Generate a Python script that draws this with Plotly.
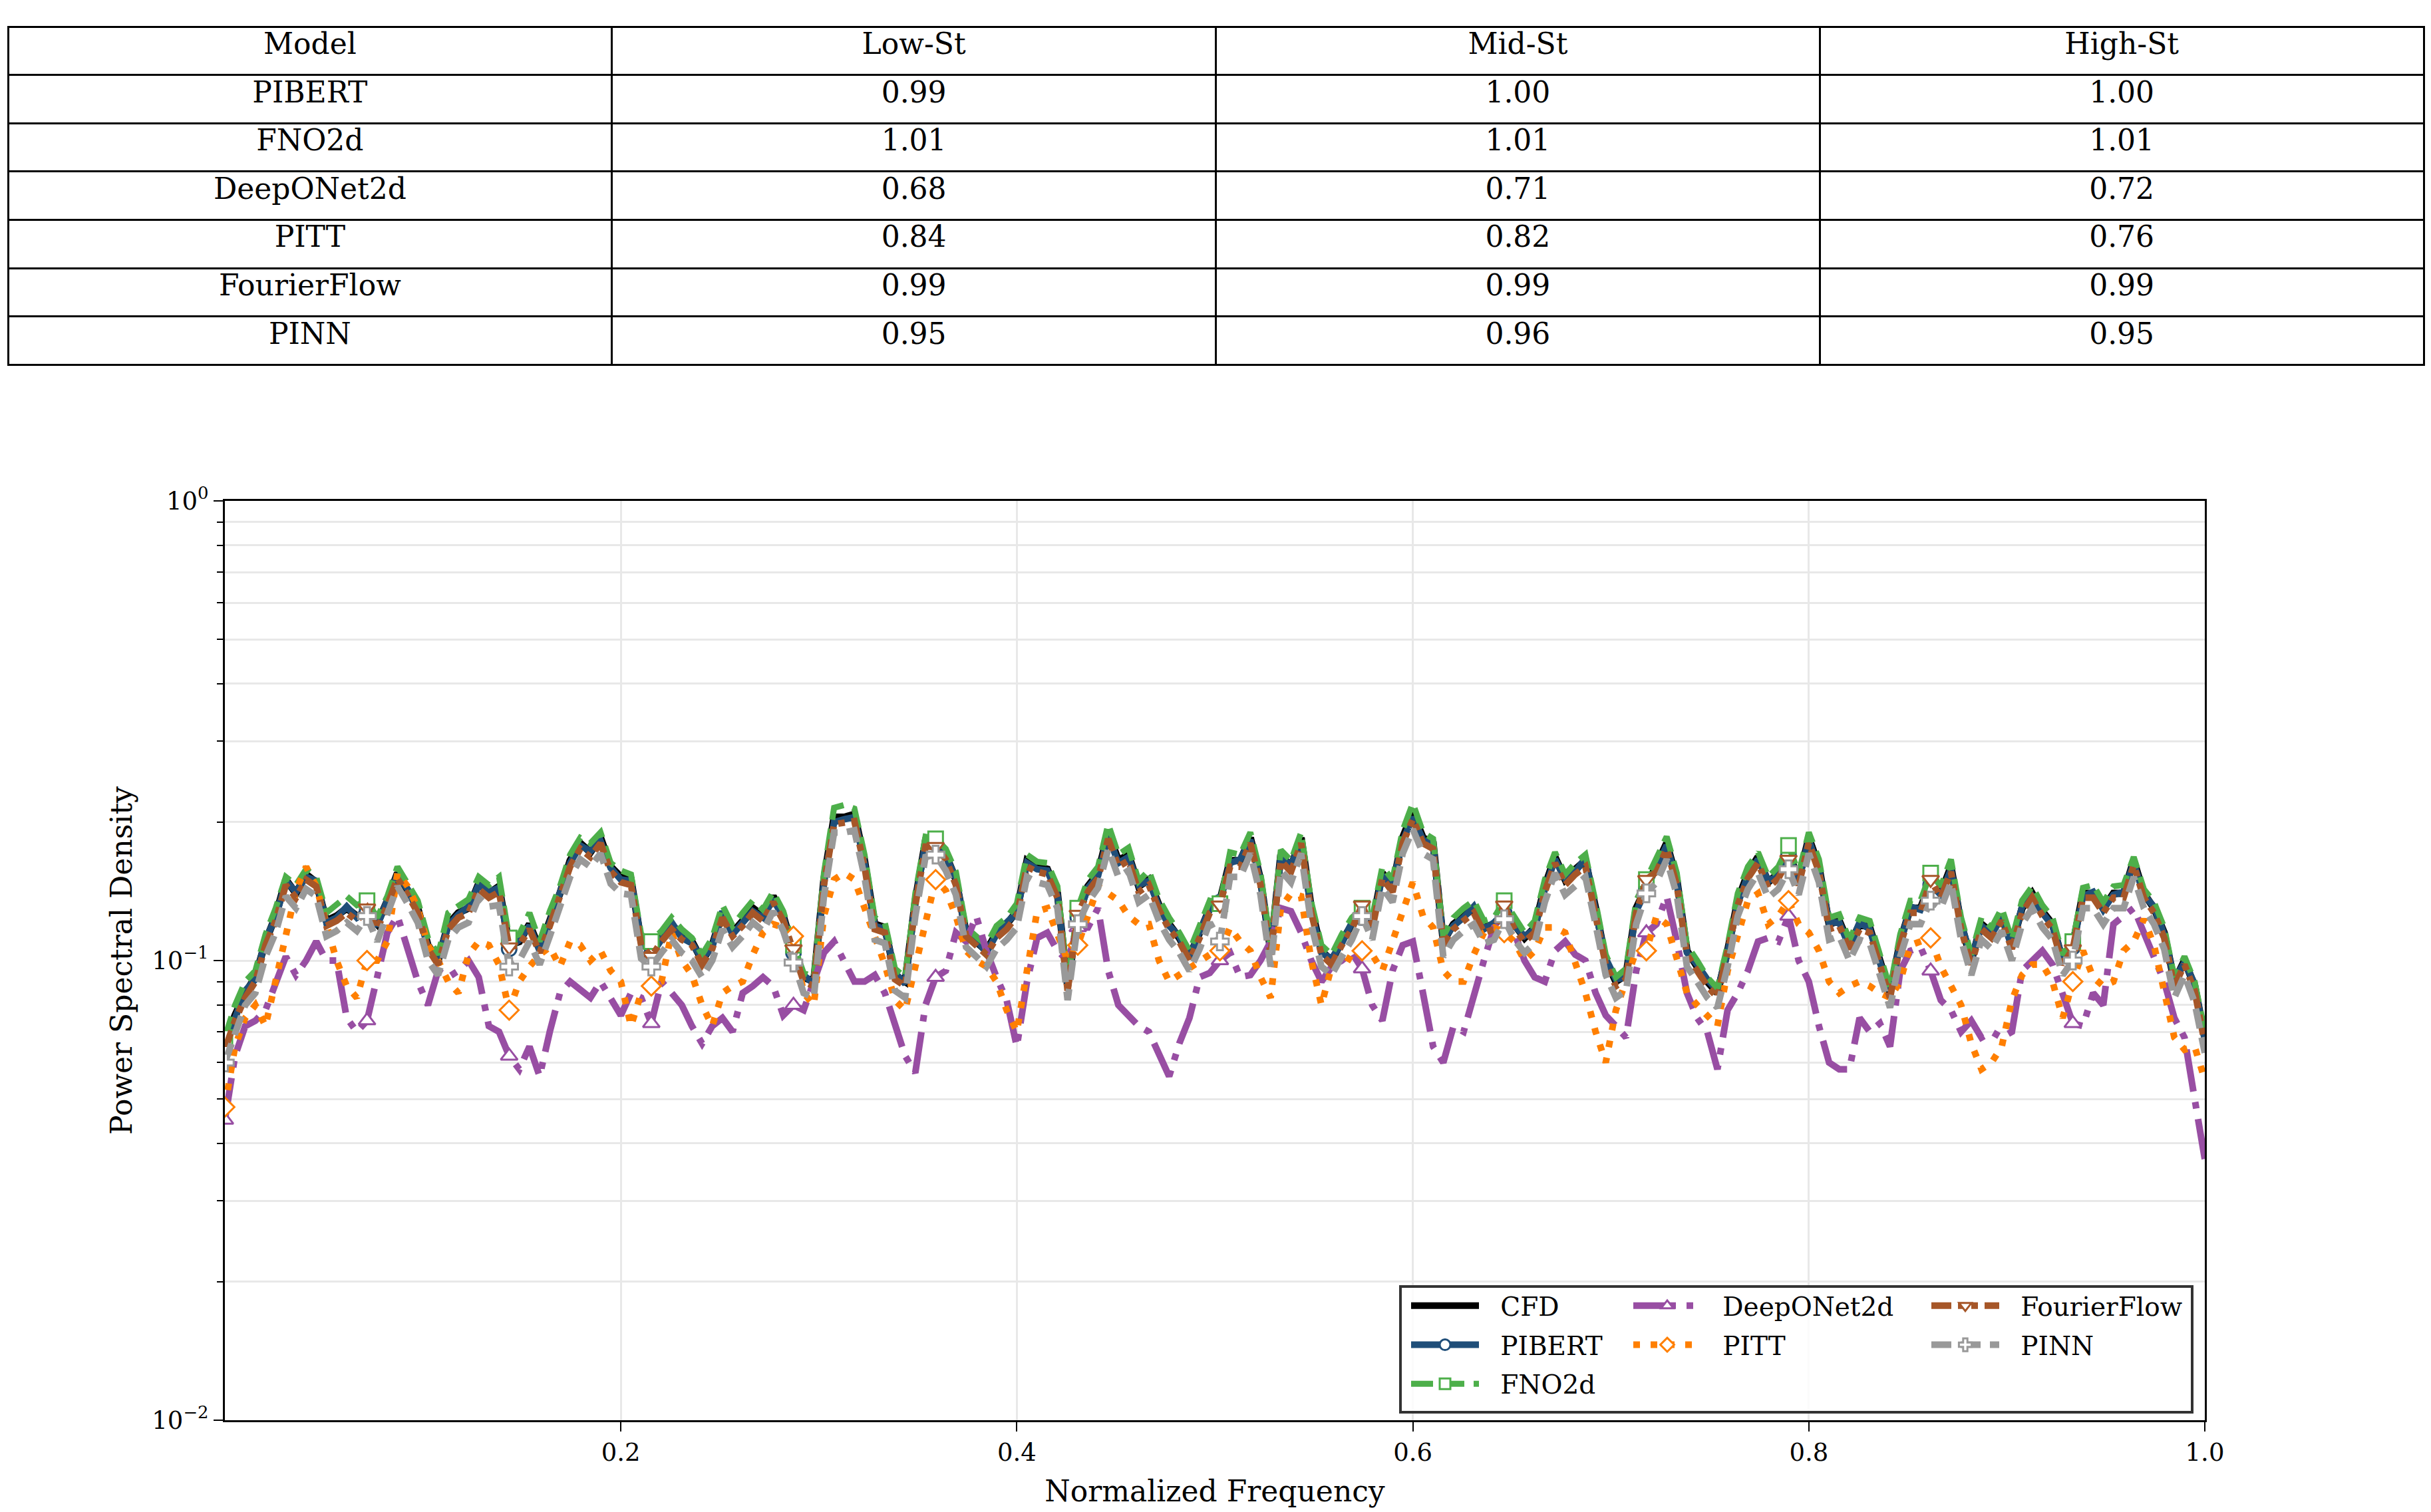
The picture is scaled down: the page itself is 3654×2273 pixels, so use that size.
import numpy as np
import plotly.graph_objects as go

# ---------------- table data ----------------
table_header = ["Model", "Low-St", "Mid-St", "High-St"]
table_models = ["PIBERT", "FNO2d", "DeepONet2d", "PITT", "FourierFlow", "PINN"]
low_st = ["0.99", "1.01", "0.68", "0.84", "0.99", "0.95"]
mid_st = ["1.00", "1.01", "0.71", "0.82", "0.99", "0.96"]
high_st = ["1.00", "1.01", "0.72", "0.76", "0.99", "0.95"]

# ---------------- spectra ----------------
n_points = 196
freq = np.arange(n_points) / (n_points - 1)
marker_step = 14

cfd = [0.066,0.076,0.085,0.092,0.110,0.125,0.150,0.140,0.154,0.148,
0.122,0.125,0.130,0.125,0.127,0.120,0.135,0.155,0.142,0.130,
0.108,0.100,0.120,0.127,0.130,0.147,0.140,0.145,0.108,0.110,
0.120,0.106,0.122,0.140,0.165,0.180,0.172,0.185,0.160,0.152,
0.150,0.110,0.104,0.112,0.120,0.113,0.110,0.100,0.108,0.127,
0.115,0.122,0.130,0.125,0.138,0.125,0.105,0.092,0.090,0.150,
0.205,0.205,0.208,0.165,0.120,0.118,0.093,0.090,0.135,0.182,
0.182,0.170,0.150,0.115,0.110,0.105,0.115,0.120,0.128,0.165,
0.160,0.158,0.140,0.088,0.125,0.145,0.155,0.190,0.165,0.170,
0.145,0.150,0.132,0.120,0.112,0.102,0.115,0.130,0.135,0.165,
0.165,0.185,0.150,0.105,0.170,0.160,0.185,0.130,0.105,0.100,
0.110,0.120,0.125,0.120,0.155,0.145,0.185,0.210,0.185,0.180,
0.110,0.120,0.125,0.130,0.118,0.120,0.128,0.120,0.112,0.118,
0.145,0.168,0.150,0.158,0.165,0.130,0.100,0.090,0.093,0.130,
0.145,0.160,0.180,0.150,0.105,0.097,0.090,0.085,0.105,0.135,
0.155,0.168,0.148,0.155,0.172,0.150,0.185,0.160,0.120,0.122,
0.108,0.120,0.118,0.100,0.085,0.110,0.130,0.130,0.148,0.140,
0.160,0.120,0.100,0.120,0.115,0.125,0.108,0.130,0.140,0.128,
0.120,0.100,0.108,0.140,0.140,0.130,0.140,0.140,0.165,0.140,
0.130,0.115,0.090,0.100,0.088,0.068]

pibert = [0.065,0.075,0.086,0.091,0.111,0.124,0.149,0.141,0.152,0.149,
0.121,0.124,0.131,0.124,0.128,0.119,0.134,0.154,0.143,0.128,
0.107,0.101,0.119,0.126,0.131,0.146,0.141,0.144,0.106,0.111,
0.119,0.105,0.121,0.141,0.163,0.178,0.173,0.182,0.159,0.150,
0.149,0.111,0.103,0.111,0.121,0.112,0.109,0.101,0.107,0.128,
0.114,0.121,0.128,0.124,0.136,0.124,0.104,0.093,0.089,0.148,
0.200,0.203,0.205,0.163,0.119,0.117,0.094,0.089,0.134,0.180,
0.180,0.169,0.151,0.114,0.111,0.104,0.114,0.121,0.127,0.163,
0.158,0.157,0.139,0.089,0.124,0.144,0.153,0.187,0.163,0.168,
0.146,0.149,0.131,0.119,0.113,0.101,0.116,0.129,0.134,0.163,
0.166,0.183,0.149,0.106,0.168,0.161,0.182,0.128,0.104,0.101,
0.109,0.121,0.124,0.119,0.153,0.146,0.182,0.205,0.183,0.178,
0.111,0.119,0.124,0.131,0.117,0.121,0.127,0.119,0.113,0.117,
0.143,0.166,0.151,0.156,0.167,0.128,0.101,0.091,0.092,0.128,
0.143,0.161,0.178,0.149,0.104,0.098,0.091,0.086,0.104,0.133,
0.153,0.166,0.149,0.153,0.170,0.149,0.183,0.158,0.121,0.121,
0.107,0.121,0.117,0.099,0.086,0.109,0.131,0.129,0.146,0.139,
0.158,0.121,0.101,0.119,0.114,0.124,0.107,0.131,0.138,0.127,
0.119,0.101,0.107,0.138,0.141,0.129,0.139,0.141,0.163,0.139,
0.131,0.114,0.091,0.099,0.089,0.067]

fno2d = [0.068,0.080,0.090,0.095,0.114,0.130,0.152,0.146,0.158,0.152,
0.127,0.133,0.138,0.132,0.135,0.124,0.138,0.160,0.146,0.135,
0.112,0.103,0.127,0.131,0.136,0.152,0.146,0.152,0.112,0.114,
0.127,0.110,0.128,0.145,0.170,0.185,0.180,0.190,0.163,0.157,
0.154,0.114,0.110,0.116,0.124,0.117,0.112,0.103,0.112,0.132,
0.119,0.127,0.135,0.129,0.141,0.128,0.108,0.094,0.092,0.155,
0.215,0.218,0.214,0.170,0.124,0.121,0.096,0.092,0.140,0.186,
0.184,0.175,0.156,0.118,0.113,0.108,0.119,0.124,0.133,0.170,
0.164,0.163,0.145,0.090,0.130,0.150,0.160,0.198,0.170,0.176,
0.149,0.157,0.136,0.124,0.115,0.105,0.119,0.135,0.133,0.172,
0.170,0.190,0.155,0.108,0.174,0.165,0.190,0.134,0.108,0.103,
0.114,0.124,0.130,0.124,0.160,0.150,0.192,0.220,0.190,0.184,
0.113,0.124,0.130,0.135,0.122,0.124,0.135,0.124,0.115,0.122,
0.150,0.172,0.154,0.163,0.170,0.134,0.103,0.092,0.096,0.135,
0.150,0.166,0.186,0.155,0.108,0.100,0.092,0.087,0.108,0.140,
0.160,0.172,0.152,0.160,0.178,0.155,0.190,0.166,0.124,0.126,
0.111,0.124,0.122,0.103,0.087,0.114,0.135,0.135,0.155,0.145,
0.166,0.124,0.103,0.124,0.118,0.130,0.111,0.135,0.145,0.132,
0.124,0.103,0.110,0.144,0.146,0.134,0.145,0.146,0.168,0.143,
0.134,0.118,0.092,0.102,0.090,0.070]

deeponet2d = [0.045,0.062,0.072,0.074,0.078,0.090,0.102,0.093,0.100,0.110,
0.100,0.100,0.075,0.070,0.074,0.092,0.115,0.125,0.105,0.090,
0.080,0.095,0.092,0.095,0.100,0.092,0.072,0.070,0.062,0.058,
0.065,0.056,0.070,0.085,0.090,0.086,0.083,0.090,0.083,0.076,
0.085,0.083,0.073,0.090,0.085,0.080,0.072,0.066,0.072,0.075,
0.070,0.085,0.088,0.092,0.088,0.076,0.080,0.078,0.090,0.104,
0.110,0.100,0.090,0.090,0.093,0.085,0.072,0.062,0.057,0.080,
0.092,0.095,0.115,0.110,0.125,0.105,0.092,0.082,0.065,0.090,
0.112,0.115,0.105,0.100,0.118,0.118,0.130,0.095,0.080,0.076,
0.072,0.070,0.063,0.056,0.066,0.075,0.092,0.094,0.100,0.104,
0.092,0.093,0.100,0.110,0.130,0.128,0.115,0.100,0.090,0.097,
0.100,0.104,0.096,0.080,0.074,0.095,0.108,0.110,0.085,0.065,
0.060,0.072,0.070,0.085,0.100,0.118,0.120,0.115,0.100,0.092,
0.090,0.105,0.110,0.103,0.100,0.085,0.076,0.072,0.068,0.095,
0.115,0.120,0.138,0.110,0.085,0.075,0.070,0.058,0.078,0.085,
0.095,0.110,0.112,0.110,0.125,0.100,0.090,0.072,0.060,0.058,
0.058,0.075,0.070,0.073,0.065,0.095,0.105,0.107,0.095,0.082,
0.078,0.070,0.074,0.068,0.070,0.068,0.070,0.095,0.100,0.105,
0.098,0.084,0.073,0.072,0.085,0.080,0.120,0.125,0.130,0.115,
0.102,0.090,0.075,0.068,0.050,0.037]

pitt = [0.048,0.065,0.075,0.080,0.072,0.090,0.110,0.142,0.160,0.145,
0.120,0.100,0.088,0.083,0.100,0.100,0.110,0.155,0.145,0.130,
0.108,0.100,0.090,0.085,0.103,0.110,0.108,0.098,0.078,0.090,
0.097,0.103,0.107,0.097,0.110,0.108,0.100,0.105,0.095,0.090,
0.072,0.085,0.088,0.090,0.115,0.100,0.093,0.080,0.072,0.085,
0.088,0.090,0.103,0.115,0.120,0.118,0.113,0.085,0.080,0.125,
0.150,0.155,0.150,0.130,0.115,0.098,0.082,0.078,0.097,0.120,
0.150,0.142,0.125,0.105,0.100,0.097,0.090,0.078,0.070,0.095,
0.128,0.130,0.113,0.100,0.108,0.125,0.145,0.140,0.135,0.125,
0.120,0.120,0.100,0.090,0.093,0.097,0.100,0.103,0.105,0.118,
0.110,0.105,0.092,0.083,0.130,0.140,0.138,0.100,0.080,0.097,
0.103,0.100,0.105,0.103,0.095,0.110,0.125,0.148,0.125,0.118,
0.095,0.090,0.090,0.103,0.115,0.118,0.115,0.110,0.100,0.105,
0.118,0.118,0.115,0.098,0.085,0.070,0.060,0.078,0.090,0.105,
0.105,0.125,0.120,0.100,0.085,0.080,0.076,0.072,0.095,0.115,
0.135,0.140,0.120,0.125,0.135,0.120,0.115,0.105,0.090,0.085,
0.088,0.090,0.088,0.085,0.083,0.090,0.108,0.110,0.112,0.097,
0.088,0.080,0.066,0.058,0.060,0.065,0.082,0.093,0.098,0.098,
0.090,0.075,0.090,0.105,0.092,0.088,0.090,0.105,0.110,0.123,
0.108,0.085,0.068,0.064,0.065,0.055]

fourierflow = [0.064,0.074,0.083,0.090,0.108,0.122,0.146,0.137,0.150,0.145,
0.119,0.122,0.127,0.122,0.130,0.117,0.132,0.151,0.139,0.127,
0.106,0.098,0.117,0.124,0.127,0.143,0.137,0.141,0.107,0.108,
0.117,0.104,0.119,0.137,0.160,0.175,0.168,0.180,0.156,0.148,
0.146,0.108,0.102,0.110,0.117,0.111,0.108,0.098,0.106,0.124,
0.113,0.119,0.127,0.122,0.134,0.122,0.106,0.090,0.088,0.146,
0.198,0.199,0.201,0.160,0.117,0.115,0.091,0.088,0.132,0.177,
0.177,0.166,0.146,0.113,0.108,0.103,0.112,0.117,0.125,0.160,
0.156,0.154,0.137,0.086,0.126,0.141,0.151,0.184,0.160,0.165,
0.141,0.146,0.129,0.117,0.110,0.100,0.112,0.127,0.132,0.160,
0.160,0.180,0.146,0.103,0.165,0.156,0.180,0.127,0.103,0.098,
0.108,0.117,0.132,0.117,0.151,0.141,0.180,0.203,0.180,0.175,
0.108,0.117,0.122,0.127,0.115,0.117,0.132,0.117,0.110,0.115,
0.141,0.163,0.146,0.154,0.160,0.127,0.098,0.088,0.091,0.127,
0.150,0.156,0.175,0.146,0.103,0.095,0.088,0.083,0.103,0.132,
0.151,0.163,0.144,0.151,0.166,0.146,0.180,0.156,0.117,0.119,
0.106,0.117,0.115,0.098,0.083,0.108,0.127,0.127,0.150,0.137,
0.156,0.117,0.098,0.117,0.112,0.122,0.106,0.127,0.137,0.125,
0.117,0.098,0.106,0.137,0.137,0.127,0.137,0.137,0.161,0.137,
0.127,0.112,0.088,0.098,0.086,0.066]

pinn = [0.060,0.070,0.080,0.085,0.102,0.115,0.138,0.130,0.143,0.138,
0.113,0.116,0.121,0.116,0.125,0.110,0.126,0.145,0.133,0.121,
0.100,0.093,0.111,0.118,0.121,0.137,0.131,0.132,0.097,0.100,
0.110,0.098,0.113,0.130,0.152,0.166,0.160,0.171,0.147,0.140,
0.139,0.101,0.097,0.104,0.111,0.104,0.100,0.092,0.100,0.117,
0.107,0.113,0.121,0.116,0.128,0.116,0.099,0.085,0.083,0.138,
0.190,0.190,0.192,0.152,0.111,0.109,0.086,0.083,0.125,0.168,
0.170,0.157,0.139,0.107,0.102,0.097,0.106,0.111,0.118,0.152,
0.148,0.146,0.130,0.082,0.120,0.134,0.144,0.175,0.152,0.157,
0.134,0.139,0.122,0.111,0.104,0.095,0.106,0.121,0.110,0.152,
0.152,0.171,0.139,0.097,0.157,0.148,0.171,0.120,0.097,0.093,
0.102,0.111,0.125,0.111,0.144,0.134,0.171,0.193,0.171,0.166,
0.102,0.111,0.116,0.120,0.109,0.111,0.123,0.111,0.104,0.109,
0.134,0.155,0.139,0.146,0.152,0.120,0.093,0.083,0.086,0.120,
0.140,0.148,0.166,0.139,0.097,0.090,0.083,0.079,0.097,0.125,
0.143,0.155,0.137,0.143,0.158,0.139,0.171,0.148,0.111,0.113,
0.100,0.111,0.109,0.093,0.079,0.102,0.120,0.120,0.135,0.130,
0.148,0.111,0.093,0.111,0.106,0.116,0.100,0.120,0.130,0.118,
0.111,0.093,0.100,0.130,0.130,0.120,0.130,0.130,0.152,0.130,
0.120,0.106,0.083,0.093,0.081,0.063]

x_tick_vals = [0.2, 0.4, 0.6, 0.8, 1.0]
x_tick_text = ["0.2", "0.4", "0.6", "0.8", "1.0"]
y_tick_vals = [0.01, 0.1, 1.0]
y_tick_text = ["10<sup>\u22122</sup>", "10<sup>\u22121</sup>", "10<sup>0</sup>"]
y_minor_vals = [0.02, 0.03, 0.04, 0.05, 0.06, 0.07, 0.08, 0.09,
                0.2, 0.3, 0.4, 0.5, 0.6, 0.7, 0.8, 0.9]

# ---------------- styles ----------------
FONT = "DejaVu Serif"
W, H = 3654, 2273
LEG_PAD = "\u2002\u2009"   # visual gap between legend symbol and label

series = [
    # name, values, color, width, dash, symbol, legend
    ("CFD", cfd, "#000000", 11, "solid", None, "legend"),
    ("PIBERT", pibert, "#1f4e79", 10, "solid", "circle", "legend"),
    ("FNO2d", fno2d, "#4daf4a", 9, "33px,14px", "square", "legend"),
    ("DeepONet2d", deeponet2d, "#984ea3", 10, "64px,16px,10px,16px", "triangle-up", "legend2"),
    ("PITT", pitt, "#ff7f00", 10, "10px,16px", "diamond", "legend2"),
    ("FourierFlow", fourierflow, "#a65628", 10, "30px,10px,10px,10px,10px,10px", "triangle-down", "legend3"),
    ("PINN", pinn, "#999999", 10, "30px,14px", "cross", "legend3"),
]

fig = go.Figure()

fig.add_trace(go.Table(
    domain=dict(x=[12 / W, 3643 / W], y=[1 - 552 / H, 1 - 40 / H]),
    columnwidth=[1, 1, 1, 1],
    header=dict(values=table_header, height=72.6, align="center",
                fill_color="white", line=dict(color="black", width=3),
                font=dict(family=FONT, size=44, color="black")),
    cells=dict(values=[table_models, low_st, mid_st, high_st], height=72.6,
               align="center", fill_color="white",
               line=dict(color="black", width=3),
               font=dict(family=FONT, size=44, color="black")),
))

for name, vals, color, width, dash, symbol, leg in series:
    vals = np.asarray(vals)
    fig.add_trace(go.Scatter(
        x=freq, y=vals, mode="lines", name=name, showlegend=False,
        legendgroup=name,
        line=dict(color=color, width=width, dash=dash),
        hoverinfo="skip"))
    if symbol is not None:
        fig.add_trace(go.Scatter(
            x=freq[::marker_step], y=vals[::marker_step], mode="markers",
            name=name, showlegend=False, legendgroup=name,
            marker=dict(symbol=symbol, size=22, color="white",
                        line=dict(color=color, width=3)),
            hoverinfo="skip"))
    # legend entry
    fig.add_trace(go.Scatter(
        x=[None], y=[None], name=LEG_PAD + name, legend=leg, legendgroup=name,
        mode="lines+markers" if symbol else "lines",
        line=dict(color=color, width=width, dash=dash),
        marker=dict(symbol=symbol or "circle", size=22, color="white",
                    line=dict(color=color, width=3))))

axis_font = dict(family=FONT, size=37, color="black")
leg_common = dict(xanchor="left", yanchor="top", bgcolor="rgba(0,0,0,0)",
                  borderwidth=0, font=dict(family=FONT, size=39, color="black"),
                  itemwidth=102, traceorder="grouped", tracegroupgap=5,
                  itemsizing="trace", itemclick=False, itemdoubleclick=False)

fig.update_layout(
    width=W, height=H,
    margin=dict(l=0, r=0, t=0, b=0),
    paper_bgcolor="white", plot_bgcolor="white",
    font=dict(family=FONT, color="black"),
    xaxis=dict(domain=[338 / W, 3314 / W], range=[0, 1],
               tickmode="array", tickvals=x_tick_vals, ticktext=x_tick_text,
               ticks="outside", ticklen=14, tickwidth=2, tickcolor="black",
               tickfont=axis_font, showgrid=True, gridcolor="#e8e8e8", gridwidth=3,
               zeroline=False, showline=True, linecolor="black", linewidth=3,
               mirror=True, automargin=False,
               title=dict(text="Normalized Frequency", standoff=22,
                          font=dict(family=FONT, size=44, color="black"))),
    yaxis=dict(domain=[1 - 2135 / H, 1 - 753 / H], type="log", range=[-2, 0],
               tickmode="array", tickvals=y_tick_vals, ticktext=y_tick_text,
               ticks="outside", ticklen=14, tickwidth=2, tickcolor="black",
               tickfont=axis_font, showgrid=True, gridcolor="#e8e8e8", gridwidth=3,
               minor=dict(tickmode="array", tickvals=y_minor_vals, ticks="outside",
                          ticklen=9, tickwidth=2, tickcolor="black",
                          showgrid=True, gridcolor="#e8e8e8", gridwidth=3),
               zeroline=False, showline=True, linecolor="black", linewidth=3,
               mirror=True, automargin=False,
               title=dict(text="Power Spectral Density", standoff=16,
                          font=dict(family=FONT, size=44, color="black"))),
    legend=dict(x=2116 / W, y=1 - 1931 / H, **leg_common),
    legend2=dict(x=2450 / W, y=1 - 1931 / H, **leg_common),
    legend3=dict(x=2898 / W, y=1 - 1931 / H, **leg_common),
    shapes=[dict(type="rect", xref="paper", yref="paper",
                 x0=2105 / W, x1=3295 / W, y0=1 - 2123 / H, y1=1 - 1934 / H,
                 line=dict(color="#333333", width=4),
                 fillcolor="rgba(255,255,255,0.8)", layer="above")],
)

fig.write_html("out.html")
